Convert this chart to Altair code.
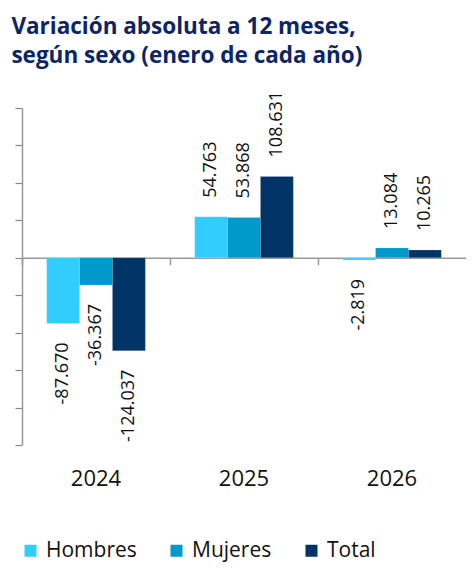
import altair as alt
import pandas as pd

years = ["2024", "2025", "2026"]
series = ["Hombres", "Mujeres", "Total"]
hombres = [-87670, 54763, -2819]
mujeres = [-36367, 53868, 13084]
total = [-124037, 108631, 10265]
colors = ["#33CCFF", "#0099CC", "#003366"]
y_ticks = [-250000, -200000, -150000, -100000, -50000, 0, 50000, 100000, 150000, 200000]

rows = []
for s, vals in zip(series, [hombres, mujeres, total]):
    for y, v in zip(years, vals):
        rows.append({"Año": y, "Serie": s, "Valor": v,
                     "Etiqueta": f"{v:,}".replace(",", ".")})
df = pd.DataFrame(rows)

H = 337
zero_px = H * 200000 / 450000

x_enc = alt.X("Año:N", title=None, sort=years,
              scale=alt.Scale(paddingInner=0, paddingOuter=0),
              axis=alt.Axis(labelAngle=0, labelFont="Open Sans", labelFontSize=22,
                            labelColor="#111111", domainColor="#999999", domainWidth=1.5,
                            tickColor="#999999", tickWidth=1.5, tickSize=7, bandPosition=0,
                            offset=-(H - zero_px), labelPadding=204))
xo_enc = alt.XOffset("Serie:N", sort=series,
                     scale=alt.Scale(paddingOuter=0.75, paddingInner=0))
y_enc = alt.Y("Valor:Q", title=None,
              scale=alt.Scale(domain=[-250000, 200000], nice=False, zero=True),
              axis=alt.Axis(values=y_ticks, tickCount=10, labels=False, grid=False,
                            domainColor="#999999", domainWidth=1.5, tickColor="#888888",
                            tickWidth=1.2, tickSize=7))

bars = alt.Chart(df).mark_bar(stroke="#ffffff", strokeWidth=0.3, strokeOpacity=0.5).encode(
    x=x_enc, xOffset=xo_enc, y=y_enc,
    color=alt.Color("Serie:N", sort=series,
                    scale=alt.Scale(domain=series, range=colors),
                    legend=alt.Legend(title=None, orient="none", direction="horizontal",
                                      legendX=-2, legendY=432, symbolType="square",
                                      symbolSize=144, symbolStrokeWidth=0,
                                      labelFont="Open Sans", labelFontSize=21,
                                      labelColor="#111111", labelOffset=5,
                                      columnPadding=29, padding=0)),
)

pos = alt.Chart(df).transform_filter("datum.Valor >= 0").mark_text(
    angle=270, align="left", baseline="middle", dx=19, font="Open Sans", fontSize=18,
    color="#111111").encode(x=alt.X("Año:N", sort=years), xOffset=alt.XOffset("Serie:N", sort=series),
                            y="Valor:Q", text="Etiqueta:N")
neg = alt.Chart(df).transform_filter("datum.Valor < 0").mark_text(
    angle=270, align="right", baseline="middle", dx=-19, font="Open Sans", fontSize=18,
    color="#111111").encode(x=alt.X("Año:N", sort=years), xOffset=alt.XOffset("Serie:N", sort=series),
                            y="Valor:Q", text="Etiqueta:N")

chart = alt.layer(bars, pos, neg).properties(
    width=444, height=H,
    title=alt.TitleParams(["Variación absoluta a 12 meses,", "según sexo (enero de cada año)"],
                          anchor="start", font="Open Sans", fontSize=22.5, fontWeight="bold",
                          color="#0B2565", lineHeight=29, offset=23, dx=-3),
    autosize=alt.AutoSizeParams(type="none"),
    padding={"left": 14, "top": 100, "right": 0, "bottom": 118},
).configure_view(stroke=None)

chart.save("out.html", embed_options={"renderer": "svg", "actions": False})
